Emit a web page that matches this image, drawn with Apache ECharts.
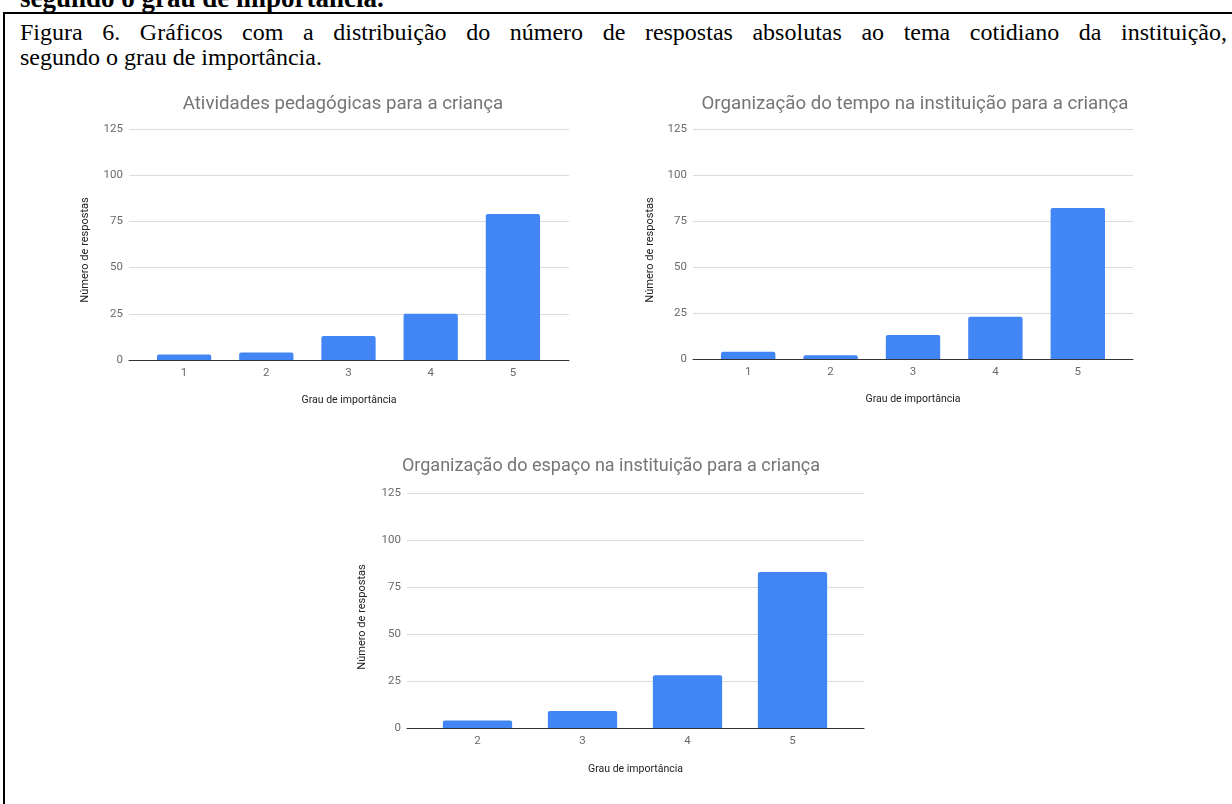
<!DOCTYPE html>
<html lang="pt">
<head>
<meta charset="utf-8">
<title>Figura 6</title>
<script src="https://cdn.jsdelivr.net/npm/echarts@6/dist/echarts.min.js"></script>
<style>
  html, body { margin: 0; padding: 0; background: #fff; }
  body { width: 1232px; height: 804px; position: relative; overflow: hidden; }
  .serif { font-family: "Liberation Serif", "Times New Roman", serif; color: #000; position: absolute; white-space: nowrap; }
  #prev { left: 20px; top: -15px; font-size: 27px; font-weight: bold; line-height: 26px; }
  #frame { position: absolute; left: 3px; top: 12px; width: 1300px; height: 900px;
           border-top: 2px solid #000; border-left: 2px solid #000; }
  #cap1 { left: 20px; width: 1207px; top: 20px; font-size: 24px; line-height: 25px;
          text-align: justify; text-align-last: justify; }
  #cap2 { left: 20px; top: 45px; font-size: 24px; line-height: 25px; }
  #chart { position: absolute; left: 0; top: 0; width: 1232px; height: 804px; }
</style>
</head>
<body>
<div id="prev" class="serif">segundo o grau de importância.</div>
<div id="frame"></div>
<div id="cap1" class="serif">Figura 6. Gráficos com a distribuição do número de respostas absolutas ao tema cotidiano da instituição,</div>
<div id="cap2" class="serif">segundo o grau de importância.</div>
<div id="chart"></div>
<script>
// Responses per importance level, one set per theme
const titleA = 'Atividades pedagógicas para a criança';
const categoriesA = ['1', '2', '3', '4', '5'];
const valuesA = [3, 4, 13, 25, 79];

const titleB = 'Organização do tempo na instituição para a criança';
const categoriesB = ['1', '2', '3', '4', '5'];
const valuesB = [4, 2, 13, 23, 82];

const titleC = 'Organização do espaço na instituição para a criança';
const categoriesC = ['2', '3', '4', '5'];
const valuesC = [4, 9, 28, 83];

const xAxisName = 'Grau de importância';
const yAxisName = 'Número de respostas';
const yMin = 0, yMax = 125, yStep = 25;

const FONT = 'Roboto, "Noto Sans", sans-serif';
const BAR = '#4285f4';

// Each panel: an outer plot frame (gridlines, value labels, baseline) and an
// inner band, inset from the frame, where the category bars sit.
const panels = [
  { frame: { left: 129, top: 129, width: 440, height: 231 }, band: { left: 143, width: 411 },
    title: titleA, titleSize: 18.7, titleX: 343, titleY: 104, nameX: 85, nameY: 250, nameGap: 35,
    cats: categoriesA, vals: valuesA },
  { frame: { left: 693, top: 129, width: 440, height: 230 }, band: { left: 707, width: 412 },
    title: titleB, titleSize: 18.7, titleX: 915, titleY: 104, nameX: 650, nameY: 250, nameGap: 35,
    cats: categoriesB, vals: valuesB },
  { frame: { left: 407, top: 493, width: 457, height: 235 }, band: { left: 425, width: 420 },
    title: titleC, titleSize: 18, titleX: 611, titleY: 466, nameX: 362, nameY: 617, nameGap: 36,
    cats: categoriesC, vals: valuesC }
];

const grid = [], xAxis = [], yAxis = [], series = [], graphic = [];
panels.forEach((p, i) => {
  const f = 2 * i, b = 2 * i + 1;
  // frame grid
  grid.push({ left: p.frame.left, top: p.frame.top, width: p.frame.width, height: p.frame.height });
  xAxis.push({
    type: 'value', gridIndex: f, min: 0, max: 1,
    axisLine: { show: true, onZero: false, lineStyle: { color: '#333', width: 1 } },
    axisTick: { show: false }, axisLabel: { show: false }, splitLine: { show: false },
    name: xAxisName, nameLocation: 'middle', nameGap: p.nameGap,
    nameTextStyle: { color: '#222', fontFamily: FONT, fontSize: 10.5 }
  });
  yAxis.push({
    type: 'value', gridIndex: f, min: yMin, max: yMax, interval: yStep,
    axisLine: { show: false }, axisTick: { show: false },
    axisLabel: { color: '#6a6a6a', fontFamily: FONT, fontSize: 11.5, margin: 6 },
    splitLine: { lineStyle: { color: '#dcdcdc', width: 1 } }
  });
  // bar band grid
  grid.push({ left: p.band.left, top: p.frame.top, width: p.band.width, height: p.frame.height });
  xAxis.push({
    type: 'category', gridIndex: b, data: p.cats,
    axisLine: { show: false }, axisTick: { show: false },
    axisLabel: { color: '#6a6a6a', fontFamily: FONT, fontSize: 11.5, margin: 7 }
  });
  yAxis.push({
    type: 'value', gridIndex: b, min: yMin, max: yMax, interval: yStep,
    show: false, splitLine: { show: false }
  });
  series.push({
    type: 'bar', xAxisIndex: b, yAxisIndex: b, data: p.vals,
    barCategoryGap: '34%',
    itemStyle: { color: BAR, borderRadius: [2, 2, 0, 0] },
    silent: true
  });
  graphic.push({
    type: 'text', x: p.titleX, y: p.titleY,
    style: { text: p.title, fill: '#757575', font: p.titleSize + 'px ' + FONT, textAlign: 'center', textVerticalAlign: 'middle' }
  });
  graphic.push({
    type: 'text', x: p.nameX, y: p.nameY, rotation: Math.PI / 2,
    style: { text: yAxisName, fill: '#222', font: '11px ' + FONT, textAlign: 'center', textVerticalAlign: 'middle' }
  });
});

const chart = echarts.init(document.getElementById('chart'), null, { renderer: 'canvas' });
chart.setOption({
  backgroundColor: 'transparent',
  animation: false,
  grid, xAxis, yAxis, series, graphic
});
</script>
</body>
</html>
